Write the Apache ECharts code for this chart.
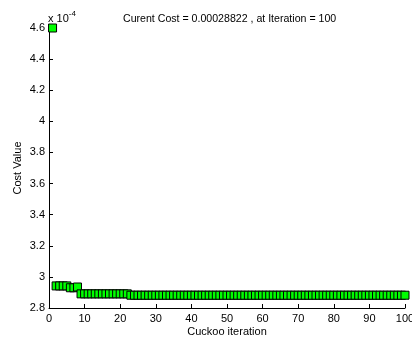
<!DOCTYPE html>
<html>
<head>
<meta charset="utf-8">
<script src="https://cdn.jsdelivr.net/npm/echarts@6/dist/echarts.min.js"></script>
<style>
  html, body { margin: 0; padding: 0; background: #fff; }
  #chart { width: 412px; height: 338px; }
</style>
</head>
<body>
<div id="chart"></div>
<script>
// cost per cuckoo iteration, in units of 1e-4
const cost = [
  4.6, 2.942, 2.942, 2.942, 2.942, 2.93, 2.93, 2.935, 2.891, 2.891,
  2.891, 2.891, 2.891, 2.891, 2.891, 2.891, 2.891, 2.891, 2.891, 2.891,
  2.891, 2.891, 2.8822, 2.8822, 2.8822, 2.8822, 2.8822, 2.8822, 2.8822, 2.8822,
  2.8822, 2.8822, 2.8822, 2.8822, 2.8822, 2.8822, 2.8822, 2.8822, 2.8822, 2.8822,
  2.8822, 2.8822, 2.8822, 2.8822, 2.8822, 2.8822, 2.8822, 2.8822, 2.8822, 2.8822,
  2.8822, 2.8822, 2.8822, 2.8822, 2.8822, 2.8822, 2.8822, 2.8822, 2.8822, 2.8822,
  2.8822, 2.8822, 2.8822, 2.8822, 2.8822, 2.8822, 2.8822, 2.8822, 2.8822, 2.8822,
  2.8822, 2.8822, 2.8822, 2.8822, 2.8822, 2.8822, 2.8822, 2.8822, 2.8822, 2.8822,
  2.8822, 2.8822, 2.8822, 2.8822, 2.8822, 2.8822, 2.8822, 2.8822, 2.8822, 2.8822,
  2.8822, 2.8822, 2.8822, 2.8822, 2.8822, 2.8822, 2.8822, 2.8822, 2.8822, 2.8822
];
const titleText = "Curent Cost = 0.00028822 , at Iteration = 100";

const font = "Liberation Sans, Arial, Helvetica, sans-serif";
const chart = echarts.init(document.getElementById("chart"));

const axisCommon = {
  axisLine: { show: true, lineStyle: { color: "#000", width: 1 } },
  axisTick: { show: true, inside: true, length: 4, lineStyle: { color: "#000" } },
  axisLabel: { color: "#000", fontSize: 11, fontFamily: font },
  splitLine: { show: false },
  nameTextStyle: { color: "#000", fontSize: 11, fontFamily: font },
  nameMoveOverlap: false,
};

chart.setOption({
  animation: false,
  backgroundColor: "#fff",
  title: {
    text: titleText,
    left: 118,
    top: 9,
    textStyle: { color: "#000", fontSize: 10.6, fontWeight: "normal", fontFamily: font },
  },
  grid: { left: 49, right: 7, top: 28, bottom: 30, containLabel: false, outerBoundsMode: "none" },
  xAxis: {
    ...axisCommon,
    type: "value",
    min: 0,
    max: 100,
    interval: 10,
    name: "Cuckoo iteration",
    nameLocation: "middle",
    nameGap: 18,
    axisLabel: { ...axisCommon.axisLabel, margin: 5 },
  },
  yAxis: {
    ...axisCommon,
    type: "value",
    min: 2.8,
    max: 4.6,
    interval: 0.2,
    name: "Cost Value",
    nameLocation: "middle",
    nameGap: 26,
    axisLabel: {
      ...axisCommon.axisLabel,
      margin: 4,
      formatter: (v) => String(Math.round(v * 10) / 10),
    },
  },
  graphic: [
    {
      type: "text",
      left: 48,
      top: 10,
      style: {
        text: "{a|x 10}{b|-4}",
        rich: {
          a: { fontSize: 11, fontFamily: font, fill: "#000", verticalAlign: "bottom" },
          b: { fontSize: 8, fontFamily: font, fill: "#000", verticalAlign: "top", padding: [0, 0, 6, 0] },
        },
      },
    },
  ],
  series: [
    {
      type: "scatter",
      symbol: "rect",
      symbolSize: 8,
      itemStyle: { color: "#00ff00", borderColor: "#000", borderWidth: 1, opacity: 1 },
      data: cost.map((c, i) => [i + 1, c]),
    },
  ],
});
</script>
</body>
</html>
